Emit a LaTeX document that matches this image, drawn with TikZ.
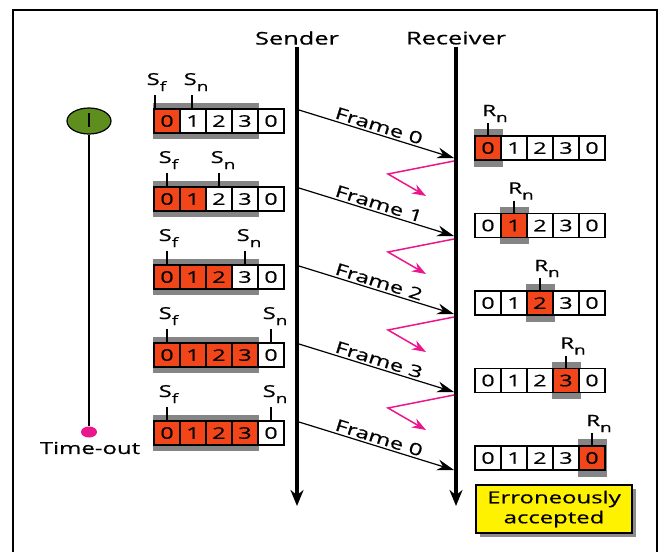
\documentclass[tikz,border=0pt]{standalone}
\usepackage{fontspec}
\setmainfont{Open Sans}[FakeStretch=1.45,FakeBold=0.6]
\newfontfamily\plainsans{Open Sans}[FakeBold=0.6]
\usetikzlibrary{arrows.meta,shadows,shapes.geometric}
\definecolor{redc}{HTML}{F2461A}
\definecolor{bandgray}{HTML}{858585}
\definecolor{timergreen}{HTML}{5E8E1E}
\definecolor{pinkc}{HTML}{EC168C}
\newcommand\sbs[1]{\raisebox{-6pt}{\fontsize{13pt}{13pt}\selectfont #1}}
\newcommand\widetext[1]{\scalebox{1.45}[1]{#1}}
\begin{document}
\begin{tikzpicture}[x=1pt,y=-1pt,
  cell/.style={draw, line width=1.2pt, minimum width=26pt, minimum height=24pt, inner sep=0pt, font=\fontsize{16pt}{16pt}\selectfont},
  hdr/.style={font=\fontsize{17.5pt}{17.5pt}\selectfont, inner sep=2pt},
  lifeline/.style={line width=4pt, -{Stealth[length=16pt,width=13pt]}},
  frame/.style={line width=1.2pt, -{Stealth[length=17pt,width=11pt]}},
  flabel/.style={font=\plainsans\fontsize{16.5pt}{16.5pt}\selectfont, inner sep=2pt},
  lost/.style={pinkc, line width=1.5pt, -{Stealth[length=14pt,width=10pt]}},
  tick/.style={line width=1.2pt},
  lbl/.style={anchor=base west, inner sep=0pt, font=\fontsize{16.5pt}{16.5pt}\selectfont},
  rlbl/.style={anchor=base west, inner sep=0pt, font=\fontsize{15.5pt}{15.5pt}\selectfont},
  timer/.style={ellipse, draw, line width=1.2pt, fill=timergreen, minimum width=44pt, minimum height=26pt, inner sep=0pt},
  dot/.style={ellipse, fill=pinkc, minimum width=16pt, minimum height=11pt, inner sep=0pt},
  errbox/.style={draw, line width=1.2pt, fill=yellow, minimum width=156pt, minimum height=48pt, align=center, inner sep=0pt,
    font=\fontsize{16.5pt}{20pt}\selectfont,
    drop shadow={shadow xshift=4pt, shadow yshift=-4pt, fill=black!45, opacity=1}}
]
\useasboundingbox (0,0) rectangle (667,552);
\draw[line width=2pt] (13,552) -- (13,10) -- (657,10) -- (657,552);

% lifelines
\node[hdr] (sender) at (297,38) {Sender};
\node[hdr] (receiver) at (456,38) {Receiver};
\coordinate (sendend) at (297,506);
\coordinate (recvend) at (456,506);
\draw[lifeline] (sender.south) -- (sendend);
\draw[lifeline] (receiver.south) -- (recvend);

% sender windows
\foreach \i/\sf/\sn/\nred in {1/155/192/1, 2/167/219/2, 3/167/245/3, 4/167/271/4, 5/167/271/4} {
  \pgfmathsetmacro\ty{109+78*(\i-1)}
  \fill[bandgray] (153,\ty-6) rectangle (259,\ty+30);
  \foreach \c/\d in {0/0,1/1,2/2,3/3,4/0} {
    \ifnum\c<\nred \def\cf{redc}\else\def\cf{white}\fi
    \node[cell, fill=\cf] (s\i c\c) at (167+26*\c,\ty+12) {\d};
  }
  \draw[tick] (\sf,\ty-14) -- (\sf,\ty);
  \draw[tick] (\sn,\ty-14) -- (\sn,\ty);
  \node[lbl] (sf\i) at (\sf-8.5,\ty-24) {S\sbs{f}};
  \node[lbl] (sn\i) at (\sn-8.5,\ty-24) {S\sbs{n}};
}

% receiver windows
\foreach \i/\r in {1/0,2/1,3/2,4/3,5/4} {
  \pgfmathsetmacro\ry{136+77.5*(\i-1)}
  \pgfmathsetmacro\rx{488+26*\r}
  \fill[bandgray] (\rx-14.5,\ry-7) rectangle (\rx+14.5,\ry+30.5);
  \foreach \c/\d in {0/0,1/1,2/2,3/3,4/0} {
    \ifnum\c=\r \def\cf{redc}\else\def\cf{white}\fi
    \node[cell, fill=\cf] (r\i c\c) at (488+26*\c,\ry+12) {\d};
  }
  \draw[tick] (\rx,\ry-13) -- (\rx,\ry);
  \node[rlbl] (rn\i) at (\rx-6,\ry-20) {R\sbs{n}};
}

% frames
\foreach \i/\lab in {1/0,2/1,3/2,4/3,5/0} {
  \pgfmathsetmacro\fy{110+78*(\i-1)}
  \coordinate (fs\i) at (299,\fy);
  \coordinate (fr\i) at (454,\fy+48);
  \draw[frame] (fs\i) -- node[sloped, above, flabel] (fl\i) {\widetext{Frame \lab}} (fr\i);
}

% lost acknowledgments
\foreach \i in {1,...,4} {
  \pgfmathsetmacro\py{161+78*(\i-1)}
  \coordinate (pa\i) at (454,\py);
  \coordinate (pb\i) at (388,\py+13);
  \coordinate (pc\i) at (426,\py+35);
  \draw[lost] (pa\i) -- (pb\i) -- (pc\i);
}

% timer
\node[timer] (timer) at (89,121) {};
\coordinate (bart) at (89,113);
\coordinate (barb) at (89,127);
\draw[line width=2.4pt] (bart) -- (barb);
\node[dot] (tout) at (89,432) {};
\draw[line width=2.4pt] (timer.south) -- (tout.north);
\node[font=\fontsize{16.5pt}{16.5pt}\selectfont, inner sep=0pt] (tolabel) at (90,448) {Time-out};

% note
\node[errbox] (err) at (554,509) {Erroneously\\accepted};
\end{tikzpicture}
\end{document}
